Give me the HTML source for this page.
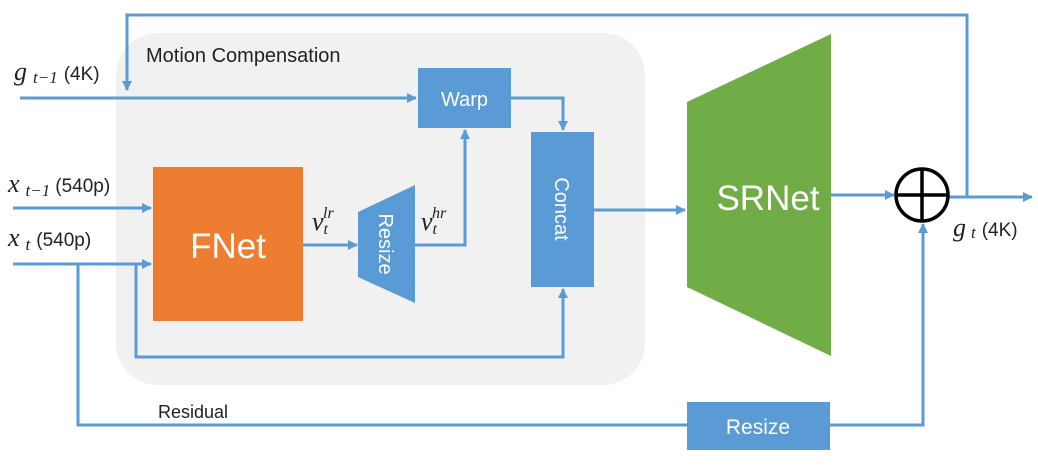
<!DOCTYPE html>
<html><head><meta charset="utf-8"><style>
html,body{margin:0;padding:0;background:#fff;}
svg{display:block;}
text{font-family:"Liberation Sans",sans-serif;}
.m{font-family:"Liberation Serif",serif;font-style:italic;}
</style></head><body>
<svg width="1038" height="473" viewBox="0 0 1038 473" xmlns="http://www.w3.org/2000/svg">
<defs>
<marker id="a" markerWidth="10" markerHeight="10" refX="9" refY="5" orient="auto" markerUnits="userSpaceOnUse">
<path d="M0,0 L10,5 L0,10 z" fill="#5b9bd5"/></marker>
</defs>
<rect x="116" y="33" width="529" height="352" rx="42" fill="#f1f1f1"/>
<g stroke="#5b9bd5" stroke-width="3" fill="none">
<polyline points="967,197 967,15 127,15 127,90" marker-end="url(#a)"/>
<line x1="20" y1="98" x2="416" y2="98" marker-end="url(#a)"/>
<polyline points="511,98 563,98 563,130" marker-end="url(#a)"/>
<line x1="13" y1="208" x2="151" y2="208" marker-end="url(#a)"/>
<line x1="13" y1="264" x2="151" y2="264" marker-end="url(#a)"/>
<line x1="303" y1="245" x2="357" y2="245" marker-end="url(#a)"/>
<polyline points="415,245 465,245 465,130" marker-end="url(#a)"/>
<polyline points="136,264 136,357 563,357 563,289" marker-end="url(#a)"/>
<polyline points="78,264 78,425 923,425 923,224" marker-end="url(#a)"/>
<line x1="594" y1="210" x2="685" y2="210" marker-end="url(#a)"/>
<line x1="831" y1="195" x2="894" y2="195" marker-end="url(#a)"/>
<line x1="948" y1="197" x2="1032" y2="197" marker-end="url(#a)"/>
</g>
<rect x="418" y="68" width="93" height="60" fill="#5b9bd5"/>
<text x="464.5" y="106" font-size="20" fill="#fff" text-anchor="middle">Warp</text>
<rect x="531" y="132" width="63" height="155" fill="#5b9bd5"/>
<text transform="translate(555,209) rotate(90)" font-size="20" fill="#fff" text-anchor="middle">Concat</text>
<rect x="153" y="167" width="150" height="154" fill="#ed7d31"/>
<text x="228" y="258" font-size="35" fill="#fff" text-anchor="middle">FNet</text>
<polygon points="358,212 415,185 415,303 358,277" fill="#5b9bd5"/>
<text transform="translate(379,244) rotate(90)" font-size="20" fill="#fff" text-anchor="middle">Resize</text>
<polygon points="687,102 831,34 831,356 687,287" fill="#70ad47"/>
<text x="768" y="210" font-size="35" fill="#fff" text-anchor="middle">SRNet</text>
<rect x="687" y="402" width="143" height="48" fill="#5b9bd5"/>
<text x="758" y="434" font-size="21" fill="#fff" text-anchor="middle">Resize</text>
<circle cx="922" cy="195" r="26" fill="#fff" stroke="#000" stroke-width="3.5"/>
<line x1="896" y1="195" x2="948" y2="195" stroke="#000" stroke-width="3.5"/>
<line x1="922" y1="169" x2="922" y2="221" stroke="#000" stroke-width="3.5"/>
<text x="146" y="62" font-size="20" fill="#222">Motion Compensation</text>
<text x="158" y="418" font-size="18" fill="#222">Residual</text>
<text x="14" y="80" font-size="26" fill="#222"><tspan class="m">g</tspan><tspan class="m" font-size="17" dx="6" dy="3">t−1</tspan><tspan font-size="19" dx="6" dy="-3">(4K)</tspan></text>
<text x="8" y="192" font-size="26" fill="#222"><tspan class="m">x</tspan><tspan class="m" font-size="17" dx="6" dy="4">t−1</tspan><tspan font-size="19" dx="5" dy="-4">(540p)</tspan></text>
<text x="8" y="246" font-size="26" fill="#222"><tspan class="m">x</tspan><tspan class="m" font-size="17" dx="6" dy="4">t</tspan><tspan font-size="19" dx="6" dy="-4">(540p)</tspan></text>
<text x="312" y="230" font-size="26" fill="#222"><tspan class="m">v</tspan><tspan class="m" font-size="16" dx="0" dy="4">t</tspan><tspan class="m" font-size="16" dx="-5" dy="-16">lr</tspan></text>
<text x="421" y="230" font-size="26" fill="#222"><tspan class="m">v</tspan><tspan class="m" font-size="16" dx="0" dy="4">t</tspan><tspan class="m" font-size="16" dx="-5" dy="-16">hr</tspan></text>
<text x="953" y="236" font-size="26" fill="#222"><tspan class="m">g</tspan><tspan class="m" font-size="17" dx="5" dy="2">t</tspan><tspan font-size="19" dx="6" dy="-2">(4K)</tspan></text>
</svg>
</body></html>
